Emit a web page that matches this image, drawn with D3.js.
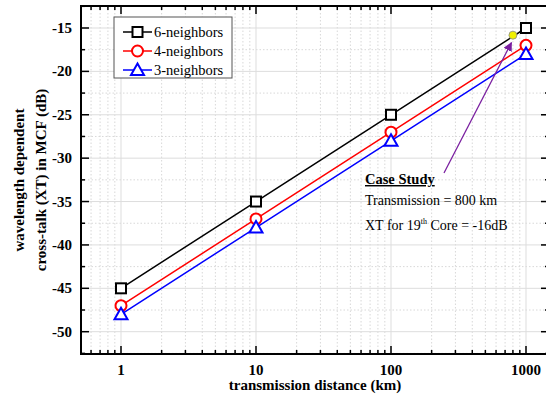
<!DOCTYPE html>
<html>
<head>
<meta charset="utf-8">
<script src="https://cdn.jsdelivr.net/npm/d3@7"></script>
<style>
  body { margin: 0; background: #fff; }
  svg { font-family: "Liberation Serif", "Times New Roman", serif; }
</style>
</head>
<body>
<svg id="chart" width="546" height="396"></svg>
<script>
  // data
  const distances = [1, 10, 100, 1000];
  const xt6 = [-45, -35, -25, -15];
  const xt4 = [-47, -37, -27, -17];
  const xt3 = [-48, -38, -28, -18];
  const seriesNames = ["6-neighbors", "4-neighbors", "3-neighbors"];
  const yTicks = [-50, -45, -40, -35, -30, -25, -20, -15];
  const xTicks = [1, 10, 100, 1000];
  const caseX = 800, caseY = -16;

  const svg = d3.select("#chart");

  const plotLeft = 81, plotTop = 6, plotBottom = 354, plotRight = 549;

  // 1 -> 121px, 1000 -> 526px
  const x = d3.scaleLog().domain([1, 1000]).range([121, 526]);
  const y = d3.scaleLinear().domain([-50, -15]).range([331.7, 28]);

  // grid
  const minorX = [];
  for (let dec = 0.1; dec <= 1000; dec *= 10) {
    for (let k = 2; k <= 9; k++) {
      const v = dec * k;
      if (x(v) > plotLeft && x(v) < plotRight) minorX.push(v);
    }
  }
  const minorY = [];
  for (let v = -52.5; v <= -12.5; v += 5) minorY.push(v);

  const grid = svg.append("g");
  grid.selectAll(".mx").data(minorX).enter().append("line")
    .attr("x1", d => x(d)).attr("x2", d => x(d))
    .attr("y1", plotTop).attr("y2", plotBottom)
    .attr("stroke", "#d8d8d8").attr("stroke-dasharray", "1.5,2");
  grid.selectAll(".my").data(minorY).enter().append("line")
    .attr("x1", plotLeft).attr("x2", plotRight)
    .attr("y1", d => y(d)).attr("y2", d => y(d))
    .attr("stroke", "#d8d8d8").attr("stroke-dasharray", "1.5,2");
  grid.selectAll(".gx").data(xTicks).enter().append("line")
    .attr("x1", d => x(d)).attr("x2", d => x(d))
    .attr("y1", plotTop).attr("y2", plotBottom)
    .attr("stroke", "#ddd").attr("stroke-width", 1);
  grid.selectAll(".gy").data(yTicks).enter().append("line")
    .attr("x1", plotLeft).attr("x2", plotRight)
    .attr("y1", d => y(d)).attr("y2", d => y(d))
    .attr("stroke", "#ddd").attr("stroke-width", 1);

  // frame
  svg.append("rect")
    .attr("x", plotLeft).attr("y", plotTop)
    .attr("width", plotRight - plotLeft).attr("height", plotBottom - plotTop)
    .attr("fill", "none").attr("stroke", "#000").attr("stroke-width", 2);

  // ticks (inward) on all four sides
  const ticks = svg.append("g").attr("stroke", "#000").attr("stroke-width", 1.5);
  xTicks.forEach(v => {
    ticks.append("line").attr("x1", x(v)).attr("x2", x(v)).attr("y1", plotBottom).attr("y2", plotBottom - 8);
    ticks.append("line").attr("x1", x(v)).attr("x2", x(v)).attr("y1", plotTop).attr("y2", plotTop + 8);
  });
  minorX.forEach(v => {
    ticks.append("line").attr("x1", x(v)).attr("x2", x(v)).attr("y1", plotBottom).attr("y2", plotBottom - 4);
    ticks.append("line").attr("x1", x(v)).attr("x2", x(v)).attr("y1", plotTop).attr("y2", plotTop + 4);
  });
  yTicks.forEach(v => {
    ticks.append("line").attr("x1", plotLeft).attr("x2", plotLeft + 8).attr("y1", y(v)).attr("y2", y(v));
    ticks.append("line").attr("x1", plotRight).attr("x2", plotRight - 8).attr("y1", y(v)).attr("y2", y(v));
  });
  minorY.forEach(v => {
    ticks.append("line").attr("x1", plotLeft).attr("x2", plotLeft + 4).attr("y1", y(v)).attr("y2", y(v));
    ticks.append("line").attr("x1", plotRight).attr("x2", plotRight - 4).attr("y1", y(v)).attr("y2", y(v));
  });

  // tick labels
  svg.selectAll(".yl").data(yTicks).enter().append("text")
    .attr("x", 72).attr("y", d => y(d) + 5)
    .attr("text-anchor", "end")
    .attr("font-size", 15).attr("font-weight", "bold")
    .text(d => d);
  svg.selectAll(".xl").data(xTicks).enter().append("text")
    .attr("x", d => x(d)).attr("y", 375)
    .attr("text-anchor", "middle")
    .attr("font-size", 15).attr("font-weight", "bold")
    .text(d => d);

  // axis titles
  svg.append("text")
    .attr("x", 315).attr("y", 390)
    .attr("text-anchor", "middle")
    .attr("font-size", 15).attr("font-weight", "bold")
    .text("transmission distance (km)");
  svg.append("text")
    .attr("transform", "translate(24,180) rotate(-90)")
    .attr("text-anchor", "middle")
    .attr("font-size", 15).attr("font-weight", "bold")
    .text("wavelength dependent");
  svg.append("text")
    .attr("transform", "translate(46,180) rotate(-90)")
    .attr("text-anchor", "middle")
    .attr("font-size", 15).attr("font-weight", "bold")
    .text("cross-talk (XT) in MCF (dB)");

  // series
  const series = [
    { name: seriesNames[0], values: xt6, color: "#000", shape: "square" },
    { name: seriesNames[1], values: xt4, color: "#f00", shape: "circle" },
    { name: seriesNames[2], values: xt3, color: "#00f", shape: "triangle" }
  ];

  const line = d3.line().x(d => x(d[0])).y(d => y(d[1]));

  function marker(g, shape, color) {
    if (shape === "square") {
      g.append("rect").attr("x", -5).attr("y", -5).attr("width", 10).attr("height", 10)
        .attr("fill", "#fff").attr("stroke", color).attr("stroke-width", 2);
    } else if (shape === "circle") {
      g.append("circle").attr("r", 5.5)
        .attr("fill", "#fff").attr("stroke", color).attr("stroke-width", 2);
    } else {
      g.append("path").attr("d", "M0,-6.5L6.5,5L-6.5,5Z")
        .attr("fill", "#fff").attr("stroke", color).attr("stroke-width", 2);
    }
  }

  series.forEach(s => {
    const pts = distances.map((d, i) => [d, s.values[i]]);
    svg.append("path").datum(pts)
      .attr("d", line)
      .attr("fill", "none").attr("stroke", s.color).attr("stroke-width", 1.5);
    pts.forEach(p => {
      const g = svg.append("g").attr("transform", `translate(${x(p[0])},${y(p[1])})`);
      marker(g, s.shape, s.color);
    });
  });

  // legend
  const legend = svg.append("g");
  legend.append("rect")
    .attr("x", 114).attr("y", 17).attr("width", 118).attr("height", 61)
    .attr("fill", "#fff").attr("stroke", "#555").attr("stroke-width", 1);
  series.forEach((s, i) => {
    const ly = 32 + i * 19;
    legend.append("line").attr("x1", 123).attr("x2", 152).attr("y1", ly).attr("y2", ly)
      .attr("stroke", s.color).attr("stroke-width", 1.5);
    const g = legend.append("g").attr("transform", `translate(137.5,${ly})`);
    marker(g, s.shape, s.color);
    legend.append("text").attr("x", 154).attr("y", ly + 5)
      .attr("font-size", 14.5).text(s.name);
  });

  // case study annotation
  svg.append("defs").append("marker")
    .attr("id", "arrow").attr("viewBox", "0 0 10 10")
    .attr("refX", 9).attr("refY", 5)
    .attr("markerWidth", 7).attr("markerHeight", 7)
    .attr("orient", "auto")
    .append("path").attr("d", "M0,0L10,5L0,10Z").attr("fill", "#7a1fa0");

  svg.append("line")
    .attr("x1", 444).attr("y1", 173)
    .attr("x2", x(caseX) - 1.5).attr("y2", y(caseY) + 6)
    .attr("stroke", "#7a1fa0").attr("stroke-width", 1.3)
    .attr("marker-end", "url(#arrow)");
  svg.append("circle")
    .attr("cx", x(caseX)).attr("cy", y(caseY) - 1.5).attr("r", 4)
    .attr("fill", "#f0f000").attr("stroke", "#888").attr("stroke-width", 0.8);

  svg.append("text").attr("x", 365).attr("y", 184)
    .attr("font-size", 14.5).attr("font-weight", "bold")
    .attr("text-decoration", "underline")
    .text("Case Study");
  svg.append("text").attr("x", 365).attr("y", 205)
    .attr("font-size", 14)
    .text("Transmission = 800 km");
  const t3 = svg.append("text").attr("x", 365).attr("y", 230)
    .attr("font-size", 14).attr("fill", "#000");
  t3.append("tspan").text("XT for 19");
  t3.append("tspan").attr("dy", -6).attr("font-size", 8).attr("fill", "#000").text("th");
  t3.append("tspan").attr("dy", 6).text(" Core = -16dB");
</script>
</body>
</html>
